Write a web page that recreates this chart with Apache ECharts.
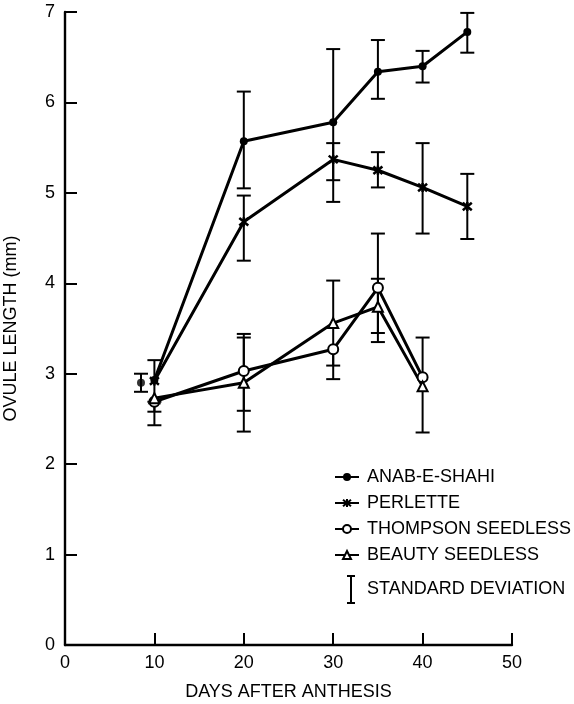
<!DOCTYPE html>
<html><head><meta charset="utf-8">
<script src="https://cdn.jsdelivr.net/npm/echarts@6/dist/echarts.min.js"></script>
<style>html,body{margin:0;padding:0;background:#fff}#c{width:574px;height:704px}</style>
</head><body><div id="c"></div>
<script>
// ---- data ----
const xTicks = [0, 10, 20, 30, 40, 50];
const yTicks = [0, 1, 2, 3, 4, 5, 6, 7];

const anabDays = [10, 20, 30, 35, 40, 45];
const anab     = [2.93, 5.57, 5.78, 6.34, 6.40, 6.78];
const anabLow  = [2.93, 5.05, 4.90, 6.04, 6.22, 6.55];
const anabHigh = [2.93, 6.12, 6.59, 6.69, 6.57, 6.99];
// day-10 Anab-e-Shahi value drawn slightly displaced with its own SD bar
const anabSideDay  = [8.5];
const anabSide     = [2.90];
const anabSideLow  = [2.80];
const anabSideHigh = [3.00];

const perDays  = [10, 20, 30, 35, 40, 45];
const perlette = [2.92, 4.68, 5.37, 5.25, 5.06, 4.85];
const perLow   = [2.69, 4.25, 5.14, 5.06, 4.55, 4.49];
const perHigh  = [3.15, 4.97, 5.55, 5.45, 5.55, 5.21];

const thDays   = [10, 20, 30, 35, 40];
const thompson = [2.69, 3.03, 3.27, 3.95, 2.96];
const thLow    = [2.58, 2.59, 2.94, 3.35, 2.96];
const thHigh   = [2.69, 3.44, 3.27, 4.55, 3.40];

const bDays    = [10, 20, 30, 35, 40];
const beauty   = [2.73, 2.90, 3.56, 3.74, 2.86];
const bLow     = [2.43, 2.36, 3.09, 3.45, 2.35];
const bHigh    = [2.73, 3.40, 4.03, 4.05, 2.86];

const names = ['ANAB-E-SHAHI', 'PERLETTE', 'THOMPSON SEEDLESS', 'BEAUTY SEEDLESS'];
const sdLabel = 'STANDARD DEVIATION';

// ---- build ----
const pts = (xs, ys) => xs.map((x, i) => [x, ys[i]]);
const errs = (xs, ys, lo, hi) => xs.map((x, i) => [x, lo[i], hi[i], ys[i]]);
const FONT = 'Liberation Sans';
const FS = 18;
const allErr = [].concat(
  errs(anabDays, anab, anabLow, anabHigh),
  errs(anabSideDay, anabSide, anabSideLow, anabSideHigh),
  errs(perDays, perlette, perLow, perHigh),
  errs(thDays, thompson, thLow, thHigh),
  errs(bDays, beauty, bLow, bHigh)
);

function renderErr(params, api) {
  const x = api.value(0), lo = api.value(1), hi = api.value(2), m = api.value(3);
  const pLo = api.coord([x, lo]), pHi = api.coord([x, hi]);
  const children = [];
  const st = { stroke: '#000', lineWidth: 2 };
  if (hi > lo) children.push({ type: 'line', shape: { x1: pLo[0], y1: pLo[1], x2: pHi[0], y2: pHi[1] }, style: st });
  const hw = 7;
  if (lo < m) children.push({ type: 'line', shape: { x1: pLo[0] - hw, y1: pLo[1], x2: pLo[0] + hw, y2: pLo[1] }, style: st });
  if (hi > m) children.push({ type: 'line', shape: { x1: pHi[0] - hw, y1: pHi[1], x2: pHi[0] + hw, y2: pHi[1] }, style: st });
  return { type: 'group', children };
}

const star = 'path://M0,0L10,10M10,0L0,10M5,-1L5,11';
const lineBase = { type: 'line', lineStyle: { color: '#000', width: 3 }, z: 3, animation: false };

const chart = echarts.init(document.getElementById('c'), null, { renderer: 'canvas' });
chart.setOption({
  backgroundColor: '#fff',
  animation: false,
  grid: { left: 65, right: 62, top: 12, bottom: 59, containLabel: false, outerBoundsMode: 'none' },
  xAxis: {
    type: 'value', min: xTicks[0], max: xTicks[xTicks.length - 1], interval: 10,
    name: 'DAYS AFTER ANTHESIS', nameLocation: 'middle', nameGap: 38,
    nameTextStyle: { color: '#000', fontSize: FS, fontFamily: FONT },
    axisLine: { lineStyle: { color: '#000', width: 2.4 } },
    axisTick: { inside: true, length: 12, lineStyle: { color: '#000', width: 2 } },
    axisLabel: { color: '#000', fontSize: FS, fontFamily: FONT, margin: 9 },
    splitLine: { show: false }
  },
  yAxis: {
    type: 'value', min: yTicks[0], max: yTicks[yTicks.length - 1], interval: 1,
    name: 'OVULE LENGTH (mm)', nameLocation: 'middle', nameGap: 45,
    nameTextStyle: { color: '#000', fontSize: FS, fontFamily: FONT },
    axisLine: { lineStyle: { color: '#000', width: 2.4 } },
    axisTick: { inside: true, length: 12, lineStyle: { color: '#000', width: 2 } },
    axisLabel: { color: '#000', fontSize: FS, fontFamily: FONT, margin: 10 },
    splitLine: { show: false }
  },
  legend: {
    orient: 'vertical', left: 334, top: 467, padding: 0,
    itemWidth: 24, itemHeight: 10, itemGap: 6,
    textStyle: { color: '#000', fontSize: FS, fontFamily: FONT, lineHeight: 20, padding: [0, 0, 0, 3] },
    data: names
  },
  series: [
    { type: 'custom', name: 'sd', renderItem: renderErr, data: allErr, z: 2, silent: true,
      encode: { x: 0, y: [1, 2] } },
    Object.assign({}, lineBase, { name: names[0], data: pts(anabDays, anab), symbol: 'circle', symbolSize: 8,
      itemStyle: { color: '#000' } }),
    { type: 'scatter', name: 'anab-side', data: pts(anabSideDay, anabSide), symbol: 'circle', symbolSize: 8,
      itemStyle: { color: '#000' }, z: 3 },
    Object.assign({}, lineBase, { name: names[1], data: pts(perDays, perlette), symbol: star, symbolSize: 9,
      itemStyle: { color: '#000', borderColor: '#000', borderWidth: 2.5 } }),
    Object.assign({}, lineBase, { name: names[2], data: pts(thDays, thompson), symbol: 'circle', symbolSize: 10,
      itemStyle: { color: '#fff', borderColor: '#000', borderWidth: 2 } }),
    Object.assign({}, lineBase, { name: names[3], data: pts(bDays, beauty), symbol: 'triangle', symbolSize: 10,
      itemStyle: { color: '#fff', borderColor: '#000', borderWidth: 2 } })
  ],
  graphic: [
    { type: 'line', shape: { x1: 351, y1: 576, x2: 351, y2: 603 }, style: { stroke: '#000', lineWidth: 2 } },
    { type: 'line', shape: { x1: 347, y1: 576, x2: 355, y2: 576 }, style: { stroke: '#000', lineWidth: 2 } },
    { type: 'line', shape: { x1: 347, y1: 603, x2: 355, y2: 603 }, style: { stroke: '#000', lineWidth: 2 } },
    { type: 'text', left: 367, top: 580, style: { text: sdLabel, fill: '#000', font: '18px "Liberation Sans"' } }
  ]
});
</script>
</body></html>
